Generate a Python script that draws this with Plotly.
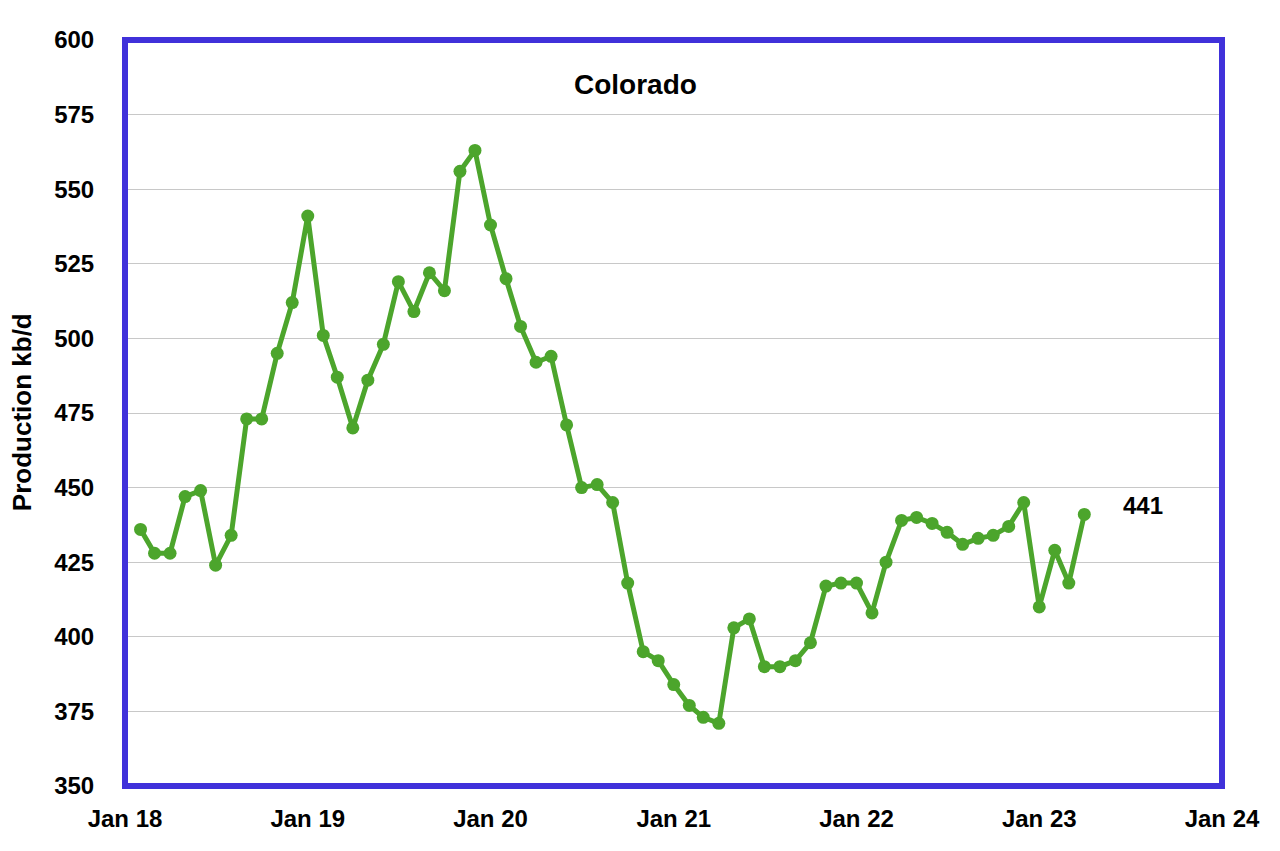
import pandas as pd
import plotly.graph_objects as go

# Monthly Colorado production (kb/d), first plotted month Feb 2018 through Apr 2023
start_month = "2018-02-01"
production = [
    436, 428, 428, 447, 449, 424, 434, 473, 473, 495, 512, 541,
    501, 487, 470, 486, 498, 519, 509, 522, 516, 556, 563, 538,
    520, 504, 492, 494, 471, 450, 451, 445, 418, 395, 392, 384,
    377, 373, 371, 403, 406, 390, 390, 392, 398, 417, 418, 418,
    408, 425, 439, 440, 438, 435, 431, 433, 434, 437, 445, 410,
    429, 418, 441,
]
months = pd.date_range(start_month, periods=len(production), freq="MS")

tick_dates = pd.date_range("2018-01-01", "2024-01-01", freq="YS")
tick_labels = ["Jan 18", "Jan 19", "Jan 20", "Jan 21", "Jan 22", "Jan 23", "Jan 24"]
y_ticks = list(range(350, 601, 25))

title_text = "Colorado"
y_title = "Production kb/d"
last_label = str(production[-1])

green = "#4CA52C"
blue = "#4031DA"
font_family = "Liberation Sans, Arial, sans-serif"

fig = go.Figure()
fig.add_trace(go.Scatter(
    x=months, y=production, mode="lines+markers",
    line=dict(color=green, width=5),
    marker=dict(color=green, size=13),
    hoverinfo="x+y", showlegend=False,
))

fig.update_layout(
    width=1272, height=843,
    margin=dict(l=117, r=58, t=32, b=65),
    paper_bgcolor="white", plot_bgcolor="white",
    font=dict(family=font_family, color="black"),
    xaxis=dict(
        range=["2018-01-01", "2024-01-01"],
        tickvals=tick_dates, ticktext=tick_labels,
        showgrid=False, zeroline=False,
        ticks="outside", ticklen=11, tickcolor="rgba(0,0,0,0)",
        tickfont=dict(size=24, family=font_family, color="black", weight="bold"),
    ),
    yaxis=dict(
        range=[350, 600], tickvals=y_ticks,
        showgrid=True, gridcolor="#C8C8C8", gridwidth=1,
        zeroline=False,
        ticks="outside", ticklen=25, tickcolor="rgba(0,0,0,0)",
        tickfont=dict(size=24, family=font_family, color="black", weight="bold"),
    ),
    shapes=[dict(
        type="rect", xref="paper", yref="paper", x0=0, x1=1, y0=0, y1=1,
        line=dict(color=blue, width=6), fillcolor="rgba(0,0,0,0)", layer="above",
    )],
    annotations=[
        dict(text=title_text, xref="paper", yref="paper", x=0.4658, y=0.941,
             showarrow=False, xanchor="center", yanchor="middle",
             font=dict(size=28, family=font_family, color="black", weight="bold")),
        dict(text=y_title, xref="paper", yref="paper", x=-0.094, y=0.501,
             textangle=-90, showarrow=False, xanchor="center", yanchor="middle",
             font=dict(size=26, family=font_family, color="black", weight="bold")),
        dict(text=last_label, x="2023-07-27", y=444, xref="x", yref="y",
             showarrow=False, xanchor="center", yanchor="middle",
             font=dict(size=24, family=font_family, color="black", weight="bold")),
    ],
)

fig.write_html("out.html")
